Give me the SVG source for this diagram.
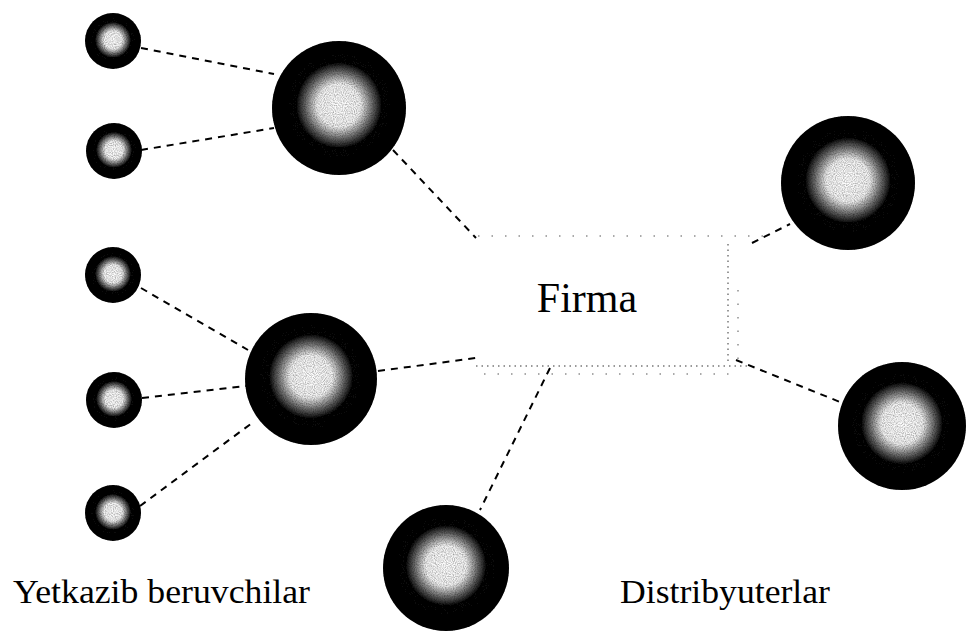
<svg xmlns="http://www.w3.org/2000/svg" width="966" height="632" viewBox="0 0 966 632">
<defs>
<radialGradient id="sph" cx="50%" cy="48%" r="50%">
<stop offset="0" stop-color="#fff"/>
<stop offset="0.32" stop-color="#f2f2f2"/>
<stop offset="0.5" stop-color="#6a6a6a"/>
<stop offset="0.64" stop-color="#0a0a0a"/>
<stop offset="1" stop-color="#000"/>
</radialGradient>
<filter id="grain" x="-10%" y="-10%" width="120%" height="120%">
<feTurbulence type="fractalNoise" baseFrequency="0.9" numOctaves="1" seed="3" result="n"/>
<feColorMatrix in="n" type="matrix" values="0 0 0 0 0  0 0 0 0 0  0 0 0 0 0  0 0 0 1.3 -0.45" result="d"/>
<feComposite in="d" in2="SourceGraphic" operator="in" result="dd"/>
<feMerge><feMergeNode in="SourceGraphic"/><feMergeNode in="dd"/></feMerge>
</filter>
</defs>
<style>
.s{fill:url(#sph);filter:url(#grain)}
.c{stroke:#000;stroke-width:2;stroke-dasharray:7 6;fill:none}
.t{font-family:"Liberation Serif","Times New Roman",serif;fill:#000}
.dot{stroke:#999;stroke-width:2;stroke-dasharray:1.5 4;fill:none}
.sp{stroke:#aaa;stroke-width:2;stroke-dasharray:1.5 12;fill:none}
</style>
<rect width="966" height="632" fill="#fff"/>
<g id="connectors">
<line class="c" x1="141" y1="48" x2="274" y2="74"/>
<line class="c" x1="141" y1="150" x2="274" y2="128"/>
<line class="c" x1="393" y1="150" x2="476" y2="238"/>
<line class="c" x1="141" y1="288" x2="248" y2="350"/>
<line class="c" x1="142" y1="398" x2="246" y2="386"/>
<line class="c" x1="140" y1="506" x2="252" y2="423"/>
<line class="c" x1="378" y1="371" x2="476" y2="358"/>
<line class="c" x1="550" y1="368" x2="480" y2="510"/>
<line class="c" x1="752" y1="243" x2="790" y2="224"/>
<line class="c" x1="736" y1="360" x2="840" y2="402"/>
</g>
<g id="firma">
<path class="sp" d="M478 236 H770"/>
<path class="dot" d="M476 366 H748"/>
<path class="sp" d="M484 374 H740"/>
<path class="dot" d="M728 244 V364"/>
<path class="sp" d="M738 290 V368"/>
<text class="t" x="587" y="312" font-size="42" text-anchor="middle">Firma</text>
</g>
<g id="s1"><circle class="s" cx="113" cy="41" r="28"/></g>
<g id="s2"><circle class="s" cx="114" cy="151" r="28"/></g>
<g id="s3"><circle class="s" cx="113" cy="275" r="28"/></g>
<g id="s4"><circle class="s" cx="114" cy="400" r="28"/></g>
<g id="s5"><circle class="s" cx="113" cy="513" r="28"/></g>
<g id="b1"><circle class="s" cx="339" cy="108" r="67"/></g>
<g id="b2"><circle class="s" cx="311" cy="379" r="66"/></g>
<g id="b3"><circle class="s" cx="446" cy="568" r="63"/></g>
<g id="d1"><circle class="s" cx="848" cy="183" r="67"/></g>
<g id="d2"><circle class="s" cx="902" cy="426" r="64"/></g>
<g id="labels">
<text class="t" x="13" y="603" font-size="34" textLength="297" lengthAdjust="spacingAndGlyphs">Yetkazib beruvchilar</text>
<text class="t" x="620" y="603" font-size="34" textLength="210" lengthAdjust="spacingAndGlyphs">Distribyuterlar</text>
</g>
</svg>
